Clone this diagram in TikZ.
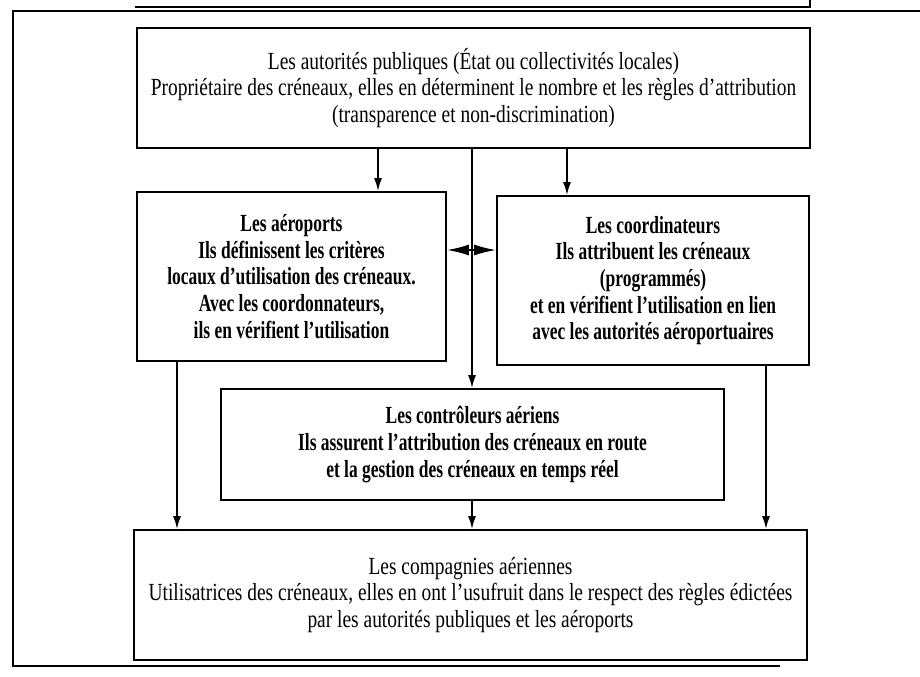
\documentclass[tikz,border=0pt]{standalone}
\usepackage{fontspec}
\setmainfont[FakeStretch=0.79,BoldFeatures={FakeStretch=0.71}]{Liberation Serif}
\usetikzlibrary{arrows.meta}

\begin{document}
\begin{tikzpicture}[x=0.5pt,y=-0.5pt,
	boite/.style={draw, line width=0.9pt, align=center, inner sep=0pt, font=\fontsize{12.3}{13.3}\selectfont},
	gras/.style={boite, font=\fontsize{12.3}{13.3}\selectfont\bfseries},
	fleche/.style={-{Latex[length=6.5pt,width=4pt]}, line width=0.9pt},
	double/.style={{Latex[length=11pt,width=5.5pt]}-{Latex[length=11pt,width=5.5pt]}, line width=0.9pt}]
	\useasboundingbox (0,0) rectangle (920,676);
	\draw[line width=0.9pt] (920,11) -- (13,11) -- (13,666) -- (780,666);
	\draw[line width=0.9pt] (135,7) -- (810,7) -- (810,0);
	\node[boite, minimum width=336.5pt, minimum height=60pt] (pub) at (473.5,88) {Les autorités publiques (État ou collectivités locales)\\Propriétaire des créneaux, elles en déterminent le nombre et les règles d’attribution\\(transparence et non-discrimination)};
	\node[gras, minimum width=154.5pt, minimum height=84.5pt] (aero) at (291.5,276.5) {Les aéroports\\Ils définissent les critères\\locaux d’utilisation des créneaux.\\Avec les coordonnateurs,\\ils en vérifient l’utilisation};
	\node[gras, minimum width=156pt, minimum height=84.5pt] (coord) at (653,280.5) {Les coordinateurs\\Ils attribuent les créneaux\\(programmés)\\et en vérifient l’utilisation en lien\\avec les autorités aéroportuaires};
	\node[gras, minimum width=251.5pt, minimum height=55.5pt] (ctrl) at (472.5,444.5) {Les contrôleurs aériens\\Ils assurent l’attribution des créneaux en route\\et la gestion des créneaux en temps réel};
	\node[boite, minimum width=336.5pt, minimum height=65pt] (comp) at (470.5,595) {Les compagnies aériennes\\Utilisatrices des créneaux, elles en ont l’usufruit dans le respect des règles édictées\\par les autorités publiques et les aéroports};
	\draw[fleche] (pub.south -| 378,0) -- (aero.north -| 378,0);
	\draw[fleche] (pub.south -| 567,0) -- (coord.north -| 567,0);
	\draw[fleche] (pub.south -| 472,0) -- (ctrl.north -| 472,0);
	\draw[double] (aero.east |- 0,250) -- (coord.west |- 0,250);
	\draw[fleche] (aero.south -| 177,0) -- (comp.north -| 177,0);
	\draw[fleche] (ctrl.south -| 472,0) -- (comp.north -| 472,0);
	\draw[fleche] (coord.south -| 766,0) -- (comp.north -| 766,0);
\end{tikzpicture}
\end{document}
